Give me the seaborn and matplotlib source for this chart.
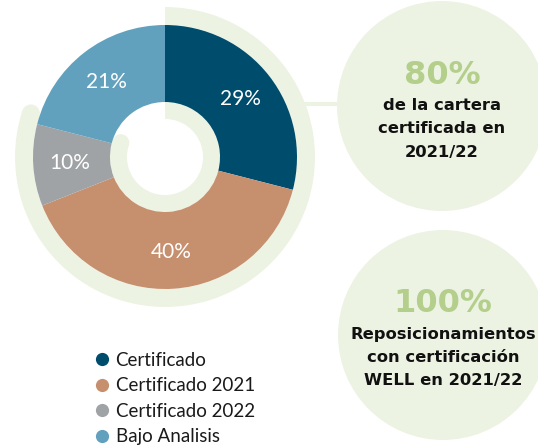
import numpy as np
import matplotlib
matplotlib.use("Agg")
import matplotlib.pyplot as plt
from matplotlib.patches import Circle
from matplotlib.lines import Line2D
import seaborn as sns

# data
categories = ["Certificado", "Certificado 2021", "Certificado 2022", "Bajo Analisis"]
shares = [29, 40, 10, 21]
colors = ["#004c6d", "#c68f6e", "#a0a3a5", "#62a1be"]
certified_share = [80, 20]  # green arc around the donut
kpi_values = ["80%", "100%"]
kpi_texts = [["de la cartera", "certificada en", "2021/22"],
             ["Reposicionamientos", "con certificación", "WELL en 2021/22"]]

GREEN_BG = "#edf3e3"
GREEN_TXT = "#b3cf8b"
W, H = 538, 446

sns.set_theme(style="white")
plt.rcParams["font.family"] = ["Lato", "DejaVu Sans"]

fig = plt.figure(figsize=(W / 100, H / 100), dpi=100)
ax = fig.add_axes([0, 0, 1, 1])

cx, cy = 165, H - 157
R_OUT, R_IN = 132, 55

# outer light green arc (80%)
ax.pie(certified_share, colors=[GREEN_BG, "none"], radius=150, center=(cx, cy),
       startangle=90, counterclock=False,
       wedgeprops=dict(width=18, linewidth=0))
# inner light green arc
ax.pie(certified_share, colors=[GREEN_BG, "none"], radius=R_IN, center=(cx, cy),
       startangle=90, counterclock=False,
       wedgeprops=dict(width=17, linewidth=0))

# rounded ends of the arcs
end_ang = np.deg2rad(90 - certified_share[0] / sum(certified_share) * 360)
for rad, w in [(150, 18), (R_IN, 17)]:
    rm = rad - w / 2
    ax.add_patch(Circle((cx + rm * np.cos(end_ang), cy + rm * np.sin(end_ang)),
                        w / 2, color=GREEN_BG, lw=0))

# main donut
wedges, _, autotexts = ax.pie(
    shares, colors=colors, radius=R_OUT, center=(cx, cy),
    startangle=90, counterclock=False, autopct="%.0f%%", pctdistance=0.72,
    wedgeprops=dict(width=R_OUT - R_IN, linewidth=0),
    textprops=dict(color="white", fontsize=15))

# connector + KPI circles
ax.plot([300, 350], [H - 104, H - 104], color=GREEN_BG, lw=3, solid_capstyle="butt", zorder=0)
circle_centers = [(442, H - 106), (443, H - 335)]
kpi_font = ["DejaVu Sans"]
for (x, y), big, lines in zip(circle_centers, kpi_values, kpi_texts):
    ax.add_patch(Circle((x, y), 105, color=GREEN_BG, lw=0, zorder=0.5))
    ax.text(x, y + 22.5, big, ha="center", va="baseline", fontsize=23,
            fontweight="bold", color=GREEN_TXT, family=kpi_font)
    for i, line in enumerate(lines):
        ax.text(x, y - 3.5 - i * 23.5, line, ha="center", va="baseline",
                fontsize=11.8, fontweight="bold", color="#111111",
                family=kpi_font)

# legend
handles = [Line2D([], [], marker="o", linestyle="", markersize=9.5,
                  markerfacecolor=c, markeredgewidth=0) for c in colors]
ax.legend(handles, categories, loc="upper left", bbox_to_anchor=(95, H - 352),
          bbox_transform=ax.transData, frameon=False, fontsize=13.5,
          handlelength=0.75, handletextpad=0.35, labelspacing=0.45,
          borderpad=0, borderaxespad=0, labelcolor="#1a1a1a")

ax.set_xlim(0, W)
ax.set_ylim(0, H)
ax.set_aspect("equal")
ax.axis("off")

fig.savefig("out.png", dpi=100)
